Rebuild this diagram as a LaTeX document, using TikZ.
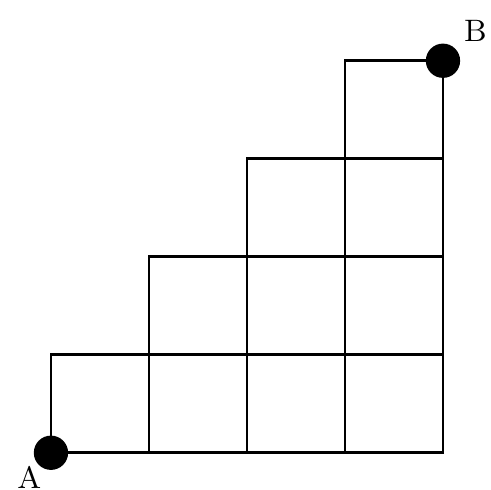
\documentclass[tikz,border=0pt]{standalone}
\begin{document}
\begin{tikzpicture}[line width=0.8pt]
\useasboundingbox (-0.52,-0.38) rectangle (4.48,4.62);
\tikzset{dot/.style={circle, fill=black, inner sep=0pt, minimum size=0.35cm}}

% staircase of squares
\foreach \r in {0,...,3}{
  \foreach \c in {\r,...,3}{
    \draw (\c,\r) rectangle ++(1,1);
  }
}

\node(A)[dot] at (0,0) {};
\node(B)[dot] at (4,4) {};
\node(LA) at (-0.22,-0.25) {\small A};
\node(LB) at (4.33,4.3) {\small B};
\end{tikzpicture}
\end{document}
